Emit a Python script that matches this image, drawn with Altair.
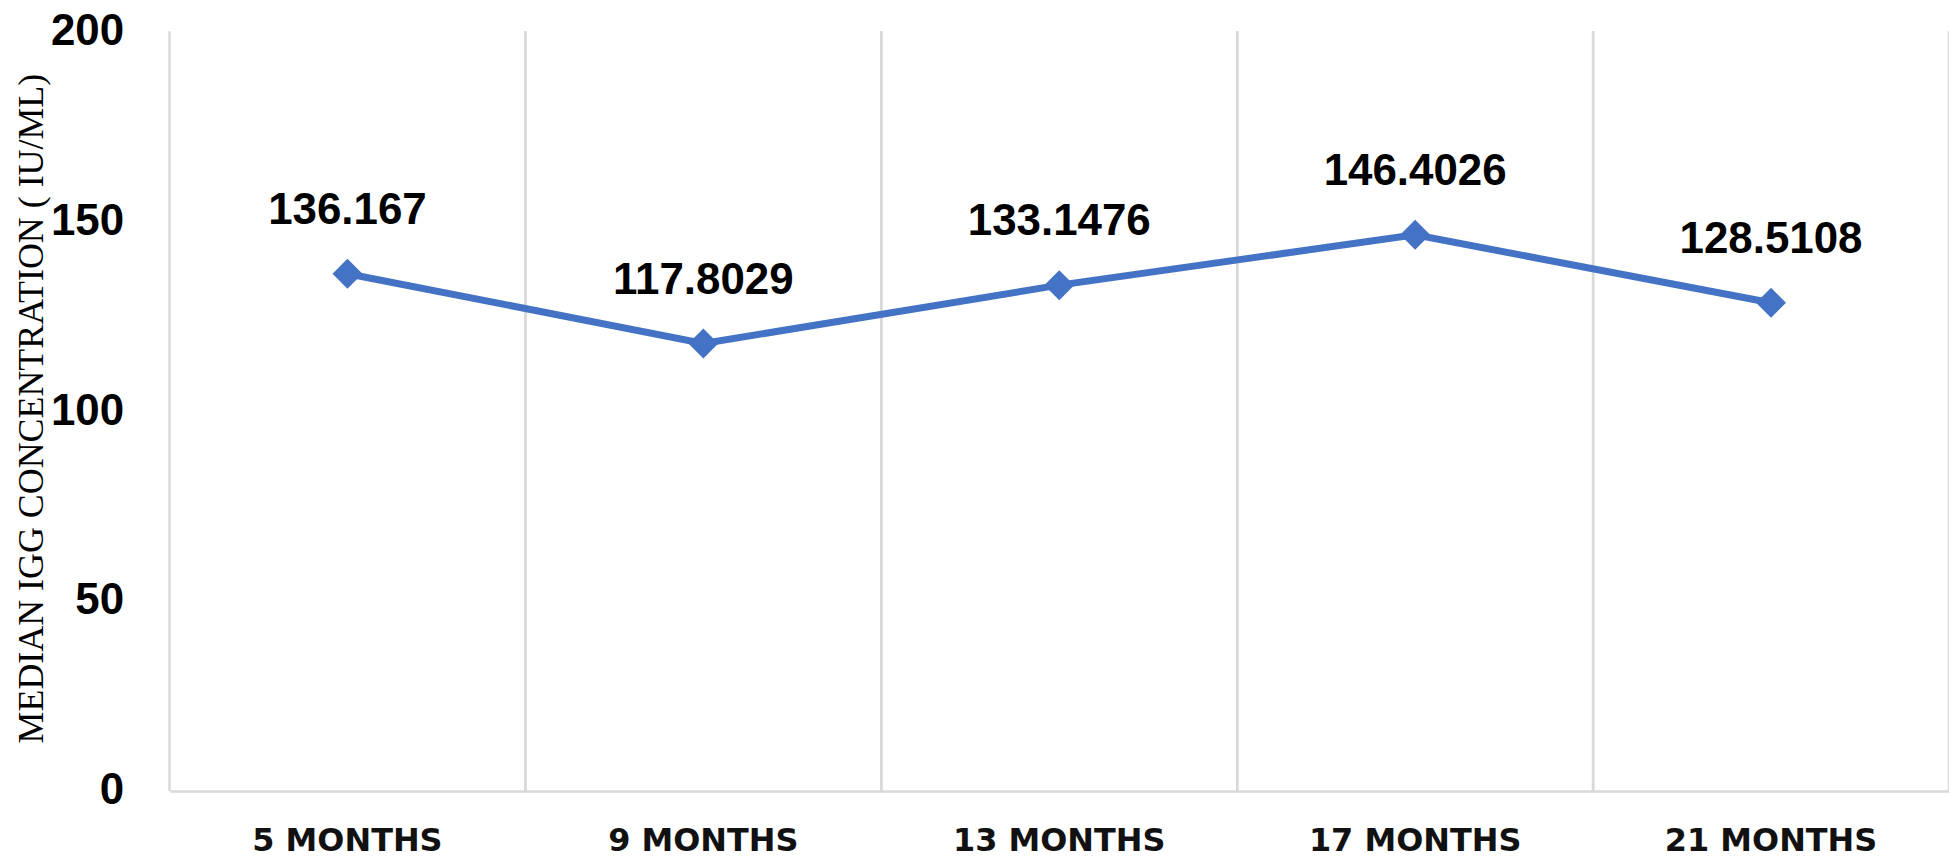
import altair as alt
import pandas as pd

months = ["5 MONTHS", "9 MONTHS", "13 MONTHS", "17 MONTHS", "21 MONTHS"]
values = [136.167, 117.8029, 133.1476, 146.4026, 128.5108]
labels = ["136.167", "117.8029", "133.1476", "146.4026", "128.5108"]
y_ticks = [0, 50, 100, 150, 200]

df = pd.DataFrame({"month": months, "value": values, "label": labels})

BLUE = "#4472C4"
GRID = "#d9d9d9"

x_scale = alt.Scale(type="band", paddingInner=0, paddingOuter=0, domain=months)
y_scale = alt.Scale(domain=[0, 200], nice=False, zero=True)

x_axis = alt.Axis(
    title=None,
    grid=False,
    ticks=False,
    tickSize=0,
    domain=True,
    domainColor=GRID,
    domainWidth=2.5,
    labelFont="DejaVu Sans",
    labelFontSize=32,
    labelFontWeight="bold",
    labelColor="#111111",
    labelPadding=35,
    labelAngle=0,
    labelLimit=0,
)

y_axis = alt.Axis(
    title="MEDIAN IGG CONCENTRATION ( IU/ML)",
    values=y_ticks,
    grid=False,
    ticks=False,
    tickSize=0,
    domain=False,
    labelFont="Liberation Sans",
    labelFontSize=44,
    labelFontWeight="bold",
    labelColor="black",
    labelPadding=46,
    titleFont="Liberation Serif",
    titleFontSize=36,
    titleFontWeight="normal",
    titleColor="black",
    titleAngle=270,
    titleX=-138,
    titleY=378,
    titleAlign="center",
    titleBaseline="middle",
    titleLimit=0,
)

base = alt.Chart(df)

grid_left = base.mark_rule(color=GRID, strokeWidth=2.5).encode(
    x=alt.X("month:N", sort=months, scale=x_scale, bandPosition=0, axis=x_axis),
    y=alt.datum(0, scale=y_scale),
    y2=alt.datum(200),
)
grid_right = base.mark_rule(color=GRID, strokeWidth=2.5).encode(
    x=alt.X("month:N", sort=months, scale=x_scale, bandPosition=1),
    y=alt.datum(0, scale=y_scale),
    y2=alt.datum(200),
)

line = base.mark_line(color=BLUE, strokeWidth=7).encode(
    x=alt.X("month:N", sort=months, scale=x_scale),
    y=alt.Y("value:Q", scale=y_scale, axis=y_axis),
)

pts = base.mark_point(shape="diamond", filled=True, size=900, color=BLUE, opacity=1).encode(
    x=alt.X("month:N", sort=months, scale=x_scale),
    y=alt.Y("value:Q", scale=y_scale),
)

txt = base.mark_text(
    dy=-50,
    baseline="alphabetic",
    align="center",
    font="Liberation Sans",
    fontWeight="bold",
    fontSize=44,
    color="black",
).encode(
    x=alt.X("month:N", sort=months, scale=x_scale),
    y=alt.Y("value:Q", scale=y_scale),
    text="label:N",
)

chart = (
    alt.layer(grid_left, grid_right, line, pts, txt)
    .properties(
        width=1785,
        height=762,
        autosize=alt.AutoSizeParams(type="none"),
        padding={"left": 162, "top": 22, "right": 0, "bottom": 72},
        background="white",
    )
    .configure_view(stroke=None)
)

chart.save("out.html", embed_options={"renderer": "svg", "actions": False})
